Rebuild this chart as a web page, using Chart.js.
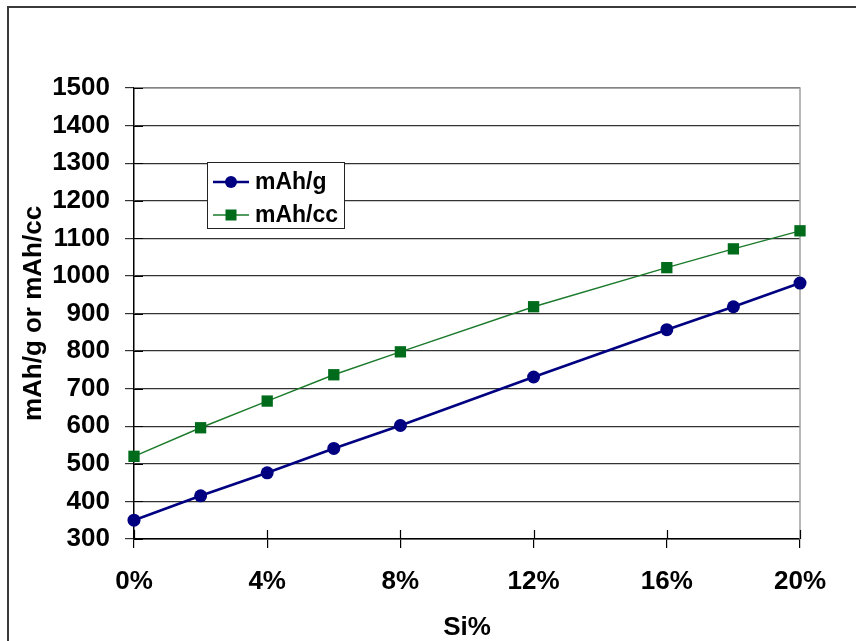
<!DOCTYPE html>
<html>
<head>
<meta charset="utf-8">
<script src="https://cdn.jsdelivr.net/npm/chart.js@4/dist/chart.umd.min.js"></script>
<style>
  html, body { margin: 0; padding: 0; background: #fff; }
  #wrap { width: 856px; height: 641px; position: relative; }
</style>
</head>
<body>
<div id="wrap"><canvas id="c" width="856" height="641"></canvas></div>
<script>
// Silicon content (%) and measured capacities
const siPercent = [0, 2, 4, 6, 8, 12, 16, 18, 20];
const mAhPerGram = [350, 415, 476, 541, 602, 731, 857, 918, 981];
const mAhPerCc = [520, 596, 667, 737, 798, 918, 1022, 1072, 1120];
const xTicks = [0, 4, 8, 12, 16, 20];
const yTicks = [300, 400, 500, 600, 700, 800, 900, 1000, 1100, 1200, 1300, 1400, 1500];

const FONT = '"Liberation Sans", Arial, sans-serif';
const BLUE = '#000080';
const GREEN = '#006b1a';

const toPoints = vals => siPercent.map((x, i) => ({ x, y: vals[i] }));

// Outer frame, crossing tick marks on the axes, and the boxed legend
const decorations = {
  id: 'decorations',
  beforeDraw(chart) {
    const ctx = chart.ctx;
    ctx.save();
    ctx.fillStyle = '#fff';
    ctx.fillRect(0, 0, chart.width, chart.height);
    ctx.strokeStyle = '#3a3a3a';
    ctx.lineWidth = 2;
    ctx.beginPath();
    ctx.moveTo(8, chart.height + 5);
    ctx.lineTo(8, 7);
    ctx.lineTo(chart.width + 5, 7);
    ctx.stroke();
    ctx.restore();
  },
  beforeDatasetsDraw(chart) {
    const ctx = chart.ctx;
    const xs = chart.scales.x, ys = chart.scales.y;
    const a = chart.chartArea;
    ctx.save();
    // plot area border (top and right)
    ctx.strokeStyle = '#a0a0a0';
    ctx.lineWidth = 1.5;
    ctx.beginPath();
    ctx.moveTo(a.left, a.top);
    ctx.lineTo(a.right, a.top);
    ctx.lineTo(a.right, a.bottom);
    ctx.stroke();
    // tick marks crossing into the plot area
    ctx.strokeStyle = '#000';
    ctx.lineWidth = 1.2;
    ctx.beginPath();
    xTicks.forEach(v => {
      const px = Math.round(xs.getPixelForValue(v)) + 0.5;
      ctx.moveTo(px, a.bottom - 9);
      ctx.lineTo(px, a.bottom);
    });
    yTicks.forEach(v => {
      const py = Math.round(ys.getPixelForValue(v)) + 0.5;
      ctx.moveTo(a.left, py);
      ctx.lineTo(a.left + 9, py);
    });
    ctx.stroke();
    ctx.restore();
  },
  afterDraw(chart) {
    const ctx = chart.ctx;
    ctx.save();
    const bx = 207, by = 162, bw = 137, bh = 66;
    ctx.fillStyle = '#fff';
    ctx.fillRect(bx, by, bw, bh);
    ctx.strokeStyle = '#222';
    ctx.lineWidth = 1;
    ctx.strokeRect(bx + 0.5, by + 0.5, bw, bh);
    const rows = [182, 215];
    chart.data.datasets.forEach((ds, i) => {
      const y = rows[i];
      ctx.strokeStyle = ds.borderColor;
      ctx.lineWidth = ds.borderWidth;
      ctx.beginPath();
      ctx.moveTo(213, y);
      ctx.lineTo(249, y);
      ctx.stroke();
      ctx.fillStyle = ds.pointBackgroundColor;
      if (ds.pointStyle === 'rect') {
        ctx.fillRect(231 - 5.5, y - 5.5, 11, 11);
      } else {
        ctx.beginPath();
        ctx.arc(231, y, 6, 0, Math.PI * 2);
        ctx.fill();
      }
      ctx.fillStyle = '#000';
      ctx.font = 'bold 23px ' + FONT;
      ctx.textBaseline = 'middle';
      ctx.textAlign = 'left';
      ctx.fillText(ds.label, 255, y + 1);
    });
    ctx.restore();
  }
};

new Chart(document.getElementById('c'), {
  type: 'line',
  data: {
    datasets: [
      {
        label: 'mAh/g',
        data: toPoints(mAhPerGram),
        borderColor: BLUE,
        backgroundColor: BLUE,
        pointBackgroundColor: BLUE,
        pointBorderColor: BLUE,
        borderWidth: 2.6,
        pointStyle: 'circle',
        pointRadius: 6.5,
        pointBorderWidth: 0,
        tension: 0,
        clip: false
      },
      {
        label: 'mAh/cc',
        data: toPoints(mAhPerCc),
        borderColor: '#1a7a2a',
        backgroundColor: GREEN,
        pointBackgroundColor: GREEN,
        pointBorderColor: GREEN,
        borderWidth: 1.4,
        pointStyle: 'rect',
        pointRadius: 8,
        pointBorderWidth: 0,
        tension: 0,
        clip: false
      }
    ]
  },
  options: {
    responsive: false,
    animation: false,
    layout: { padding: { left: 0, top: 88, right: 56, bottom: 0 } },
    plugins: {
      legend: { display: false },
      tooltip: { enabled: false }
    },
    scales: {
      x: {
        type: 'linear',
        min: 0,
        max: 20,
        afterBuildTicks: s => { s.ticks = xTicks.map(v => ({ value: v })); },
        afterFit: s => { s.height = 641 - 539; },
        ticks: {
          callback: v => v + '%',
          font: { family: FONT, size: 26, weight: 'bold' },
          color: '#000',
          padding: 18,
          maxRotation: 0
        },
        grid: {
          drawOnChartArea: false,
          drawTicks: true,
          tickLength: 9,
          color: '#000',
          lineWidth: 1.2
        },
        border: { color: '#000', width: 1.5 },
        title: {
          display: true,
          text: 'Si%',
          font: { family: FONT, size: 26, weight: 'bold', lineHeight: 1 },
          color: '#000',
          padding: { top: 0, bottom: 0 }
        }
      },
      y: {
        min: 300,
        max: 1500,
        afterBuildTicks: s => { s.ticks = yTicks.map(v => ({ value: v })); },
        afterFit: s => { s.width = 134; },
        ticks: {
          callback: v => String(v),
          font: { family: FONT, size: 26, weight: 'bold' },
          color: '#000',
          padding: 15
        },
        grid: {
          color: '#333',
          lineWidth: 1.2,
          tickLength: 9
        },
        border: { color: '#000', width: 1.5 },
        title: {
          display: true,
          text: 'mAh/g or mAh/cc',
          font: { family: FONT, size: 26, weight: 'bold', lineHeight: 1 },
          color: '#000',
          padding: { top: 21, bottom: 0 }
        }
      }
    }
  },
  plugins: [decorations]
});
</script>
</body>
</html>
